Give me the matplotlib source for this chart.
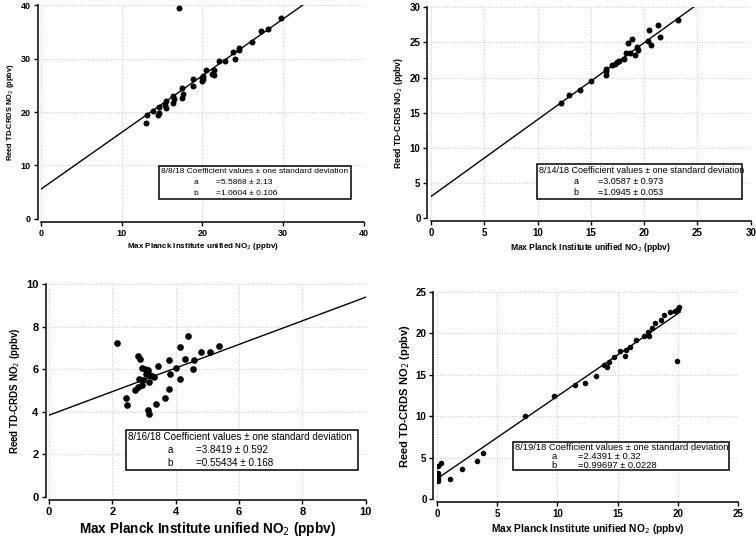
import numpy as np
import matplotlib as mpl
mpl.use('Agg')
import matplotlib.pyplot as plt
from matplotlib.patches import Rectangle

plt.rcParams['font.family'] = ['Liberation Sans Narrow', 'Liberation Sans', 'DejaVu Sans']

# 8/8/18
x1 = [17.07, 13.07, 13.15, 13.9, 14.6, 14.5, 14.6, 15.4, 15.5, 15.5, 16.4, 16.4, 16.45, 17.5, 17.5, 17.6,
      18.8, 18.8, 19.9, 20.0, 20.1, 20.4, 21.2, 21.4, 21.5, 22.0, 22.8, 23.8, 24.1, 24.5, 24.5, 26.1,
      27.3, 28.1, 29.7, 20.1]
y1 = [39.5, 18.0, 19.4, 20.25, 21.0, 19.4, 19.9, 21.3, 22.0, 20.7, 22.9, 21.6, 22.4, 24.5, 22.7, 23.3,
      26.1, 24.8, 26.4, 25.8, 26.1, 27.8, 27.1, 27.8, 26.9, 29.6, 29.5, 31.3, 30.0, 31.6, 32.0, 33.0,
      35.2, 35.5, 37.6, 26.8]
a1, da1, b1, db1 = '5.5868', '2.13', '1.0604', '0.106'

# 8/14/18
x2 = [12.19, 12.97, 14.03, 15.0, 16.38, 16.4, 16.4, 17.0, 17.25, 17.44, 17.6, 18.1, 18.3, 18.7, 18.5,
      18.9, 19.1, 19.3, 19.4, 20.4, 20.5, 20.6, 21.3, 21.5, 23.2]
y2 = [16.44, 17.48, 18.28, 19.51, 21.16, 20.88, 20.36, 21.82, 21.96, 22.15, 22.3, 22.6, 23.5, 23.5, 24.9,
      25.5, 23.2, 24.4, 23.9, 25.2, 26.8, 24.6, 27.5, 25.8, 28.2]
a2, da2, b2, db2 = '3.0587', '0.973', '1.0945', '0.053'

# 8/16/18
x3 = [2.16, 2.43, 2.46, 2.72, 2.8, 2.82, 2.87, 2.85, 2.93, 2.93, 2.98, 3.02, 3.05, 3.14, 3.19, 3.17,
      3.24, 3.12, 3.15, 3.3, 3.38, 3.43, 3.65, 3.8, 3.8, 3.81, 4.01, 4.15, 4.15, 4.29, 4.4, 4.56, 4.58,
      4.81, 5.08, 5.37]
y3 = [7.24, 4.66, 4.31, 5.02, 5.17, 6.61, 6.5, 5.52, 5.25, 6.07, 5.49, 6.0, 5.8, 5.96, 5.72, 5.38,
      5.67, 4.11, 3.89, 5.64, 4.36, 6.16, 4.67, 5.09, 6.43, 5.8, 6.08, 7.05, 5.52, 6.46, 7.55, 6.0, 6.43,
      6.82, 6.82, 7.07]
a3, da3, b3, db3 = '3.8419', '0.592', '0.55434', '0.168'

# 8/19/18
x4 = [0.05, 0.3, 0.05, 0.05, 0.1, 0.05, 0.1, 1.08, 2.1, 3.35, 3.8, 7.34, 9.76, 11.5, 12.3, 13.2, 13.9,
      14.1, 14.3, 14.7, 15.2, 15.6, 15.7, 16.05, 16.5, 17.2, 17.5, 17.6, 17.9, 18.1, 18.6, 18.9, 19.4,
      19.8, 20.0, 20.15, 19.96]
y4 = [4.0, 4.3, 3.2, 2.9, 2.6, 2.4, 2.2, 2.38, 3.6, 4.6, 5.5, 10.05, 12.5, 13.79, 13.99, 14.8, 16.2,
      16.0, 16.6, 17.1, 17.9, 17.3, 18.0, 18.4, 19.2, 19.7, 20.2, 19.7, 20.6, 21.2, 21.6, 22.2, 22.6,
      22.75, 22.9, 23.15, 16.64]
a4, da4, b4, db4 = '2.4391', '0.32', '0.99697', '0.0228'

panels = [
    dict(x=x1, y=y1, coef=(a1, da1, b1, db1), date='8/8/18', lim=(40, 40), step=(10, 10), xfit=40,
         pos=[0.0542, 0.5937, 0.427, 0.397], box=[0.365, 0.093, 0.595, 0.155],
         xl=5.8, yl=5.4, tk=6.5, lg=6.05, ms=4.3),
    dict(x=x2, y=y2, coef=(a2, da2, b2, db2), date='8/14/18', lim=(30, 30), step=(5, 5), xfit=30,
         pos=[0.570, 0.5955, 0.423, 0.391], box=[0.331, 0.09, 0.641, 0.166],
         xl=6.15, yl=6.2, tk=7.0, lg=6.45, ms=4.3),
    dict(x=x3, y=y3, coef=(a3, da3, b3, db3), date='8/16/18', lim=(10, 10), step=(2, 2), xfit=10,
         pos=[0.0648, 0.0779, 0.419, 0.395], box=[0.243, 0.127, 0.732, 0.188],
         xl=9.8, yl=7.0, tk=8.0, lg=7.15, ms=4.8),
    dict(x=x4, y=y4, coef=(a4, da4, b4, db4), date='8/19/18', lim=(25, 25), step=(5, 5), xfit=20.2,
         pos=[0.578, 0.0742, 0.398, 0.384], box=[0.252, 0.14, 0.72, 0.135],
         xl=7.4, yl=8.0, tk=7.0, lg=6.75, ms=4.0),
]

fig = plt.figure(figsize=(7.56, 5.39), dpi=100)

for p in panels:
    ax = fig.add_axes(p['pos'])
    a, da, b, db = p['coef']
    xf = np.array([0., p['xfit']])
    ax.plot(xf, float(a) + float(b) * xf, color='black', lw=1.0, zorder=3)
    ax.plot(p['x'], p['y'], 'o', color='black', ms=p['ms'], mew=0, zorder=4)

    ax.set_xlim(0, p['lim'][0])
    ax.set_ylim(0, p['lim'][1])
    ax.set_xticks(np.arange(0, p['lim'][0] + 0.01, p['step'][0]))
    ax.set_yticks(np.arange(0, p['lim'][1] + 0.01, p['step'][1]))
    ax.grid(True, color='#c8c8c8', ls=':', lw=0.7)
    ax.set_axisbelow(True)

    for side in ['top', 'right']:
        ax.spines[side].set_visible(False)
    for side in ['left', 'bottom']:
        ax.spines[side].set_position(('outward', 2.5))
        ax.spines[side].set_linewidth(1.1)
    ax.tick_params(direction='out', length=3, width=1.0, pad=2)
    for lab in ax.get_xticklabels() + ax.get_yticklabels():
        lab.set_family(['Liberation Sans', 'DejaVu Sans'])
        lab.set_fontweight('bold')
        lab.set_fontsize(p['tk'])

    ax.set_xlabel('Max Planck Institute unified NO$_2$ (ppbv)', fontsize=p['xl'], fontweight='bold', labelpad=2)
    ax.set_ylabel('Reed TD-CRDS NO$_2$ (ppbv)', fontsize=p['yl'], fontweight='bold', labelpad=3)

    bx, by, bw, bh = p['box']
    ax.add_patch(Rectangle((bx, by), bw, bh, transform=ax.transAxes, facecolor='white',
                           edgecolor='black', lw=1.1, zorder=5))
    kw = dict(transform=ax.transAxes, fontsize=p['lg'], va='center', zorder=6)
    ax.text(bx + 0.008, by + bh * 0.82, p['date'] + ' Coefficient values \u00b1 one standard deviation', **kw)
    ax.text(bx + bw * 0.18, by + bh * 0.5, 'a', **kw)
    ax.text(bx + bw * 0.30, by + bh * 0.5, '=' + a + ' \u00b1 ' + da, **kw)
    ax.text(bx + bw * 0.18, by + bh * 0.18, 'b', **kw)
    ax.text(bx + bw * 0.30, by + bh * 0.18, '=' + b + ' \u00b1 ' + db, **kw)

fig.savefig('out.png', dpi=100)
